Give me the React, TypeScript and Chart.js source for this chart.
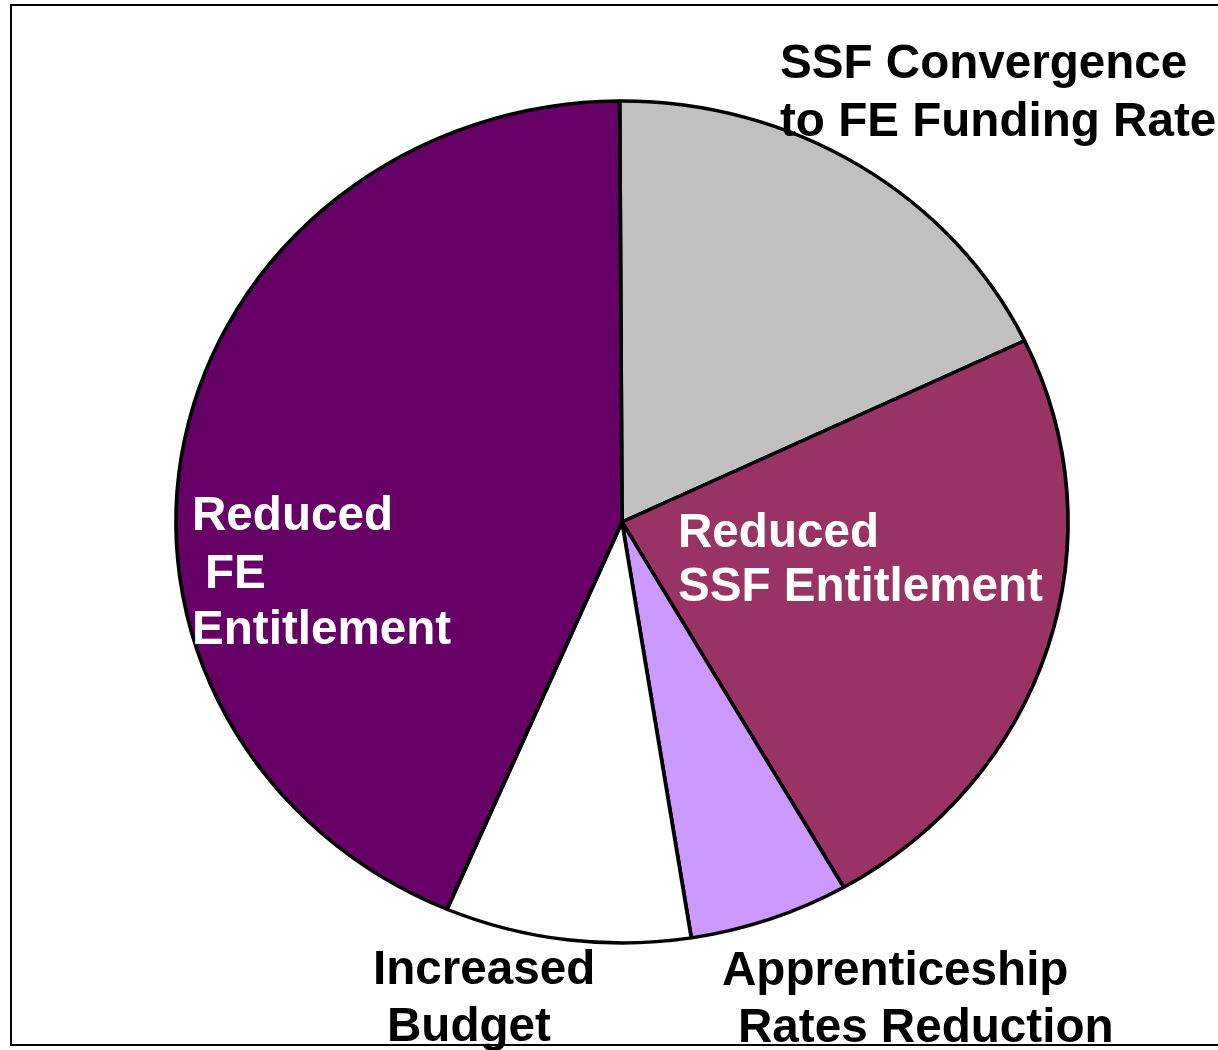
import React, { useEffect, useRef } from "react";
import { Chart, registerables } from "chart.js";

Chart.register(...registerables);

// ---- data ----
const categories = [
  "SSF Convergence to FE Funding Rate",
  "Reduced SSF Entitlement",
  "Apprenticeship Rates Reduction",
  "Increased Budget",
  "Reduced FE Entitlement",
];
const shares = [18.0, 23.8, 5.8, 8.9, 43.5];
const sliceColors = ["#C0C0C0", "#993366", "#CC99FF", "#FFFFFF", "#660066"];
const labelLines = [
  ["SSF Convergence", "to FE Funding Rate"],
  ["Reduced", "SSF Entitlement"],
  ["Apprenticeship", "Rates Reduction"],
  ["Increased", "Budget"],
  ["Reduced", "FE", "Entitlement"],
];
const labelColors = ["#000000", "#FFFFFF", "#000000", "#000000", "#FFFFFF"];

// ---- layout (positions of each label line: [x, baseline]) ----
const labelPositions: number[][][] = [
  [[780, 78], [780, 136]],
  [[678, 547], [678, 601]],
  [[722, 985], [738, 1042]],
  [[373, 984], [387, 1041]],
  [[192, 530], [205, 588], [192, 644]],
];
const RADIUS_Y = 421;
const RADIUS_X = 446;

const piePlugin = {
  id: "ellipsePie",
  beforeDraw(chart: any) {
    const ctx = chart.ctx;
    ctx.save();
    ctx.fillStyle = "#FFFFFF";
    ctx.fillRect(0, 0, chart.width, chart.height);
    ctx.strokeStyle = "#000000";
    ctx.lineWidth = 2;
    ctx.strokeRect(11, 5, 1300, 1040);
    ctx.restore();
  },
  beforeDatasetsDraw(chart: any) {
    const ctx = chart.ctx;
    const arc = chart.getDatasetMeta(0).data[0];
    ctx.save();
    ctx.translate(arc.x, arc.y);
    ctx.scale(RADIUS_X / RADIUS_Y, 1);
    ctx.translate(-arc.x, -arc.y);
  },
  afterDatasetsDraw(chart: any) {
    chart.ctx.restore();
  },
  afterDraw(chart: any) {
    const ctx = chart.ctx;
    ctx.save();
    ctx.font = 'bold 47.6px "Liberation Sans", Arial, sans-serif';
    ctx.textAlign = "left";
    ctx.textBaseline = "alphabetic";
    labelLines.forEach((lines, i) => {
      ctx.fillStyle = labelColors[i];
      lines.forEach((line, j) => {
        const p = labelPositions[i][j];
        ctx.fillText(line, p[0], p[1]);
      });
    });
    ctx.restore();
  },
};

export default function App() {
  const canvasRef = useRef<HTMLCanvasElement | null>(null);

  useEffect(() => {
    if (!canvasRef.current) return;
    const chart = new Chart(canvasRef.current, {
      type: "pie",
      data: {
        labels: categories,
        datasets: [
          {
            data: shares,
            backgroundColor: sliceColors,
            borderColor: "#000000",
            borderWidth: 3.5,
          },
        ],
      },
      options: {
        responsive: false,
        animation: false,
        rotation: -0.3,
        radius: RADIUS_Y,
        layout: { padding: { left: 26, right: 0, top: 0, bottom: 6 } },
        plugins: {
          legend: { display: false },
          tooltip: { enabled: false },
        },
      },
      plugins: [piePlugin],
    });
    return () => chart.destroy();
  }, []);

  return (
    <div style={{ position: "absolute", left: 0, top: 0, width: 1218, height: 1050, background: "#fff" }}>
      <canvas ref={canvasRef} width={1218} height={1050} style={{ display: "block" }} />
    </div>
  );
}
